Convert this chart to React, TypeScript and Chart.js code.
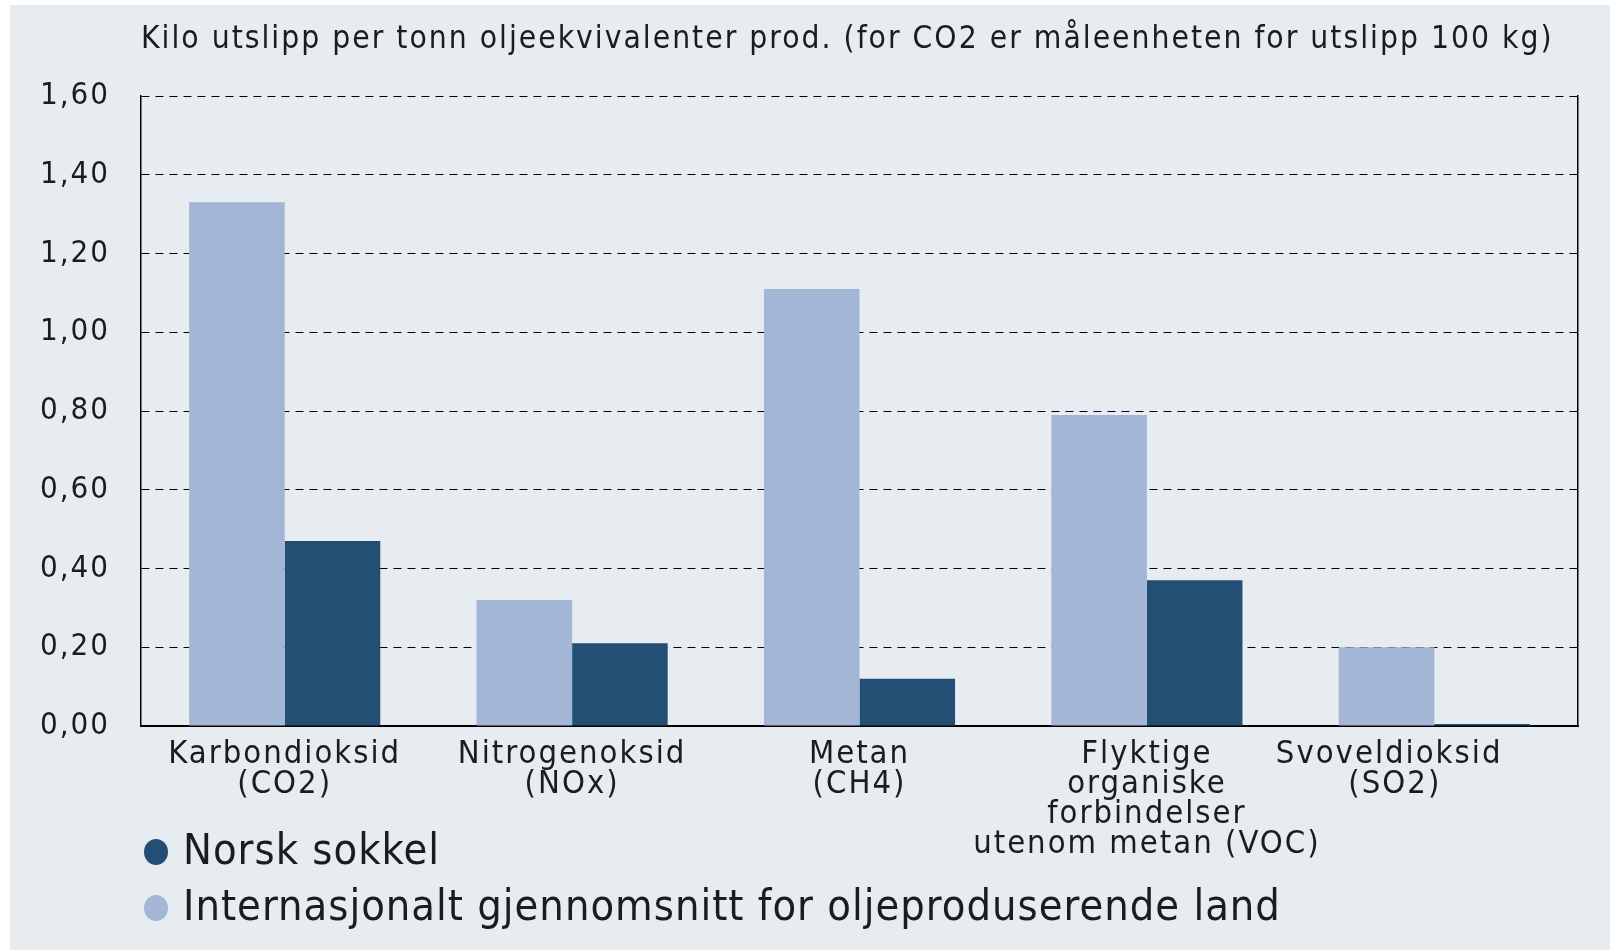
import React, { useEffect, useRef } from 'react';
import { Chart, registerables } from 'chart.js';

Chart.register(...registerables);

// ---- data ----
const CATEGORIES: string[][] = [
  ['Karbondioksid', '(CO2)'],
  ['Nitrogenoksid', '(NOx)'],
  ['Metan', '(CH4)'],
  ['Flyktige', 'organiske', 'forbindelser', 'utenom metan (VOC)'],
  ['Svoveldioksid', '(SO2)'],
];
const INTERNATIONAL: number[] = [1.33, 0.32, 1.11, 0.79, 0.2];
const NORWAY: number[] = [0.47, 0.21, 0.12, 0.37, 0.005];
const SERIES_NAMES: string[] = [
  'Internasjonalt gjennomsnitt for oljeproduserende land',
  'Norsk sokkel',
];
const TITLE = 'Kilo utslipp per tonn oljeekvivalenter prod. (for CO2 er måleenheten for utslipp 100 kg)';
const Y_MIN = 0;
const Y_MAX = 1.6;
const Y_STEP = 0.2;

// ---- style ----
const FONT = "'DejaVu Sans Condensed', 'Liberation Sans Narrow', 'DejaVu Sans', sans-serif";
const TEXT = '#1c1c1c';
const LIGHT = '#a3b6d6';
const DARK = '#234f75';
const BG = '#e7ecf1';
const W = 1600;
const H = 945;
const LS = '2px';

const spacingPlugin = {
  id: 'spacing',
  beforeUpdate(chart: any) { chart.ctx.letterSpacing = LS; },
  beforeLayout(chart: any) { chart.ctx.letterSpacing = LS; },
  beforeDraw(chart: any) { chart.ctx.letterSpacing = LS; },
};

const legendPlugin = {
  id: 'customLegend',
  afterDraw(chart: any) {
    const ctx = chart.ctx;
    ctx.save();
    ctx.letterSpacing = '1px';
    ctx.font = `normal 43px ${FONT}`;
    ctx.textBaseline = 'middle';
    ctx.textAlign = 'left';
    const items = [...chart.data.datasets].reverse();
    items.forEach((ds: any, i: number) => {
      const y = 847 + i * 56;
      ctx.fillStyle = ds.backgroundColor;
      ctx.beginPath();
      ctx.ellipse(146, y, 12, 13, 0, 0, Math.PI * 2);
      ctx.fill();
      ctx.fillStyle = TEXT;
      ctx.fillText(ds.label, 173, y + 1);
    });
    ctx.restore();
  },
};

export default function App() {
  const ref = useRef<HTMLCanvasElement | null>(null);

  useEffect(() => {
    if (!ref.current) return;
    const chart = new Chart(ref.current, {
      type: 'bar',
      data: {
        labels: CATEGORIES,
        datasets: [
          {
            label: SERIES_NAMES[0],
            data: INTERNATIONAL,
            backgroundColor: LIGHT,
            categoryPercentage: 0.665,
            barPercentage: 1.0,
          },
          {
            label: SERIES_NAMES[1],
            data: NORWAY,
            backgroundColor: DARK,
            categoryPercentage: 0.665,
            barPercentage: 1.0,
          },
        ],
      },
      options: {
        responsive: true,
        maintainAspectRatio: false,
        animation: false,
        layout: { padding: 0 },
        plugins: {
          legend: { display: false },
          tooltip: { enabled: false },
          title: {
            display: true,
            text: TITLE,
            align: 'start',
            fullSize: false,
            color: TEXT,
            font: { family: FONT, size: 31.5, weight: 'normal', lineHeight: 1.2 },
            padding: { top: 16, bottom: 37.2 },
          },
        },
        scales: {
          x: {
            type: 'category',
            offset: true,
            grid: { display: false },
            border: { display: true, color: '#000', width: 2 },
            ticks: {
              color: TEXT,
              font: { family: FONT, size: 32.5, lineHeight: 30 / 32.5 },
              padding: 6,
              maxRotation: 0,
              minRotation: 0,
              autoSkip: false,
              callback: function (this: any, _v: any, i: number) {
                const lbl = CATEGORIES[i];
                if (i === CATEGORIES.length - 1) {
                  return [lbl[0] + '        ', lbl[1] + '       '];
                }
                return lbl;
              },
            },
            afterFit: (s: any) => { s.height = 224; },
          },
          y: {
            type: 'linear',
            position: 'left',
            min: Y_MIN,
            max: Y_MAX,
            ticks: {
              stepSize: Y_STEP,
              color: TEXT,
              font: { family: FONT, size: 31 },
              padding: 31,
              callback: (v: any) => Number(v).toFixed(2).replace('.', ','),
            },
            grid: { color: '#000', lineWidth: 1, drawTicks: false },
            border: { display: true, color: '#000', width: 1.5, dash: [8, 6] },
            afterFit: (s: any) => { s.width = 131; },
          },
          y2: {
            type: 'linear',
            position: 'right',
            min: Y_MIN,
            max: Y_MAX,
            ticks: { display: false },
            grid: { display: false, drawTicks: false },
            border: { display: true, color: '#000', width: 1.5 },
            afterFit: (s: any) => { s.width = 32; },
          },
        },
      },
      plugins: [spacingPlugin, legendPlugin],
    } as any);
    return () => chart.destroy();
  }, []);

  return (
    <div
      style={{
        position: 'absolute',
        left: 10,
        top: 5,
        width: W,
        height: H,
        background: BG,
      }}
    >
      <div style={{ position: 'relative', width: W, height: H }}>
        <canvas ref={ref} />
      </div>
    </div>
  );
}
